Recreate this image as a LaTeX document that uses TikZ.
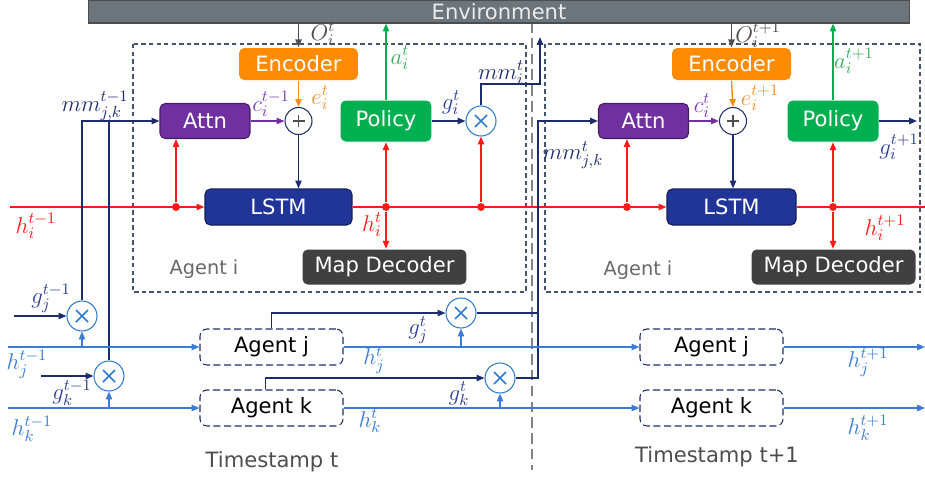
\RequirePackage{fix-cm}
\documentclass[tikz,border=0pt]{standalone}
\usepackage[no-math]{fontspec}
\newfontfamily\vfont{DejaVu Sans}
\usetikzlibrary{arrows.meta}

\definecolor{cenv}{HTML}{6C757B}
\definecolor{cnavy}{HTML}{1F2C6C}
\definecolor{cgnavy}{HTML}{2E3D94}
\definecolor{cred}{HTML}{FF1A1A}
\definecolor{cblue}{HTML}{3A7BD5}
\definecolor{cxblue}{HTML}{2E7BCF}
\definecolor{corange}{HTML}{FF8C00}
\definecolor{celab}{HTML}{F0922B}
\definecolor{cpurple}{HTML}{7030A0}
\definecolor{cclab}{HTML}{7B3FB5}
\definecolor{cgreen}{HTML}{00B050}
\definecolor{calab}{HTML}{3DAA5D}
\definecolor{clstm}{HTML}{213497}
\definecolor{cmap}{HTML}{404040}
\definecolor{cgray}{HTML}{4D4D4D}
\definecolor{cslate}{HTML}{44546A}

\begin{document}
\begin{tikzpicture}[x=0.02cm,y=-0.02cm]
        \tikzstyle{every path}=[line width=0.8pt]

        \edef\armlen{0.12cm}
        \tikzstyle{arr}=[-{Triangle[length=4.5pt,width=3.6pt]}]
        \tikzstyle{blk}=[rounded corners=3pt,inner sep=0pt,text=white,font=\vfont\fontsize{12}{14}\selectfont]
        \tikzstyle{encb}=[blk,fill=corange,minimum width=2.38cm,minimum height=0.64cm]
        \tikzstyle{attnb}=[blk,fill=cpurple,draw=cpurple!60!black,line width=0.6pt,minimum width=1.8cm,minimum height=0.7cm]
        \tikzstyle{lstmb}=[blk,fill=clstm,draw=clstm!60!black,line width=0.6pt,minimum height=0.72cm]
        \tikzstyle{polb}=[blk,fill=cgreen,minimum width=1.82cm,minimum height=0.82cm]
        \tikzstyle{mapb}=[blk,fill=cmap,minimum width=3.28cm,minimum height=0.7cm]
        \tikzstyle{agb}=[draw=cnavy,dash pattern=on 4pt off 2pt,rounded corners=4pt,line width=0.6pt,inner sep=0pt,minimum width=2.86cm,minimum height=0.72cm,font=\vfont\fontsize{12}{14}\selectfont]
        \tikzstyle{panel}=[draw=cslate,dash pattern=on 2.5pt off 1.8pt,line width=0.6pt]
        \tikzstyle{mul}=[circle,draw=cxblue,fill=white,line width=0.6pt,inner sep=0pt,minimum size=0.6cm,
            path picture={\draw[cxblue,line width=0.9pt]
              ([shift={(-\armlen,-\armlen)}]path picture bounding box.center) -- ([shift={(\armlen,\armlen)}]path picture bounding box.center)
              ([shift={(-\armlen,\armlen)}]path picture bounding box.center) -- ([shift={(\armlen,-\armlen)}]path picture bounding box.center);}]
        \tikzstyle{add}=[circle,draw=cnavy,fill=white,line width=0.6pt,inner sep=0pt,minimum size=0.54cm,
            path picture={\draw[cgray,line width=0.7pt]
              ([xshift=-\armlen]path picture bounding box.center) -- ([xshift=\armlen]path picture bounding box.center)
              ([yshift=-\armlen]path picture bounding box.center) -- ([yshift=\armlen]path picture bounding box.center);}]
        \tikzstyle{lab}=[inner sep=0pt,font=\fontsize{13}{15}\selectfont]
        \tikzstyle{txt}=[inner sep=0pt,font=\vfont\fontsize{12}{14}\selectfont]
        \tikzstyle{rdot}=[circle,fill=cred,inner sep=0pt,minimum size=4.5pt]

        \useasboundingbox (0,0) rectangle (925,477);

        % frames and the split between the two time steps
        \draw[panel] (133,44) rectangle (526,292);
        \draw[panel] (545,44) rectangle (920,292);
        \draw[cgray!70,dash pattern=on 6pt off 3pt,line width=0.7pt] (532,22) -- (532,470);

        \node[fill=cenv,draw=cgray,line width=0.6pt,inner sep=0pt,minimum width=16.44cm,minimum height=0.46cm,
              text=white!92!black,font=\vfont\fontsize{12}{14}\selectfont] (env) at (499,11.5) {Environment};

        % agent i, step t
        \node[encb]  (enc1)  at (298.5,64)  {Encoder};
        \node[attnb] (attn1) at (205,121)   {Attn};
        \node[add]   (add1)  at (298.5,121) {};
        \node[lstmb,minimum width=2.94cm] (lstm1) at (278.5,207) {LSTM};
        \node[polb]  (pol1)  at (386,121)   {Policy};
        \node[mul]   (mul1)  at (481,121)   {};
        \node[mapb]  (map1)  at (384.5,267) {Map Decoder};

        % agent i, step t+1
        \node[encb]  (enc2)  at (731.5,64)  {Encoder};
        \node[attnb] (attn2) at (643.5,121) {Attn};
        \node[add]   (add2)  at (733,121)   {};
        \node[lstmb,minimum width=2.58cm] (lstm2) at (731.5,207) {LSTM};
        \node[polb]  (pol2)  at (833,121)   {Policy};
        \node[mapb]  (map2)  at (833.5,267) {Map Decoder};

        % agents j and k
        \node[agb] (aj1) at (271.5,347) {Agent j};
        \node[agb] (ak1) at (271.5,408) {Agent k};
        \node[agb] (aj2) at (711.5,347) {Agent j};
        \node[agb] (ak2) at (711.5,408) {Agent k};
        \node[mul] (mulj0) at (82,316)  {};
        \node[mul] (mulk0) at (109,376) {};
        \node[mul] (mulj1) at (461,313) {};
        \node[mul] (mulk1) at (500,378) {};

        \node[rdot] (d1) at (176,207) {};
        \node[rdot] (d2) at (386,207) {};
        \node[rdot] (d3) at (481,207) {};
        \node[rdot] (d4) at (627,207) {};
        \node[rdot] (d5) at (833,207) {};

        \coordinate (hin)    at (10,207);
        \coordinate (hout)   at (925,207);
        \coordinate (mmbend) at (540,84);
        \coordinate (mmup)   at (540,37);
        \coordinate (mmjk)   at (538,121);
        \coordinate (gout)   at (917,121);
        \coordinate (gj0)    at (14,316);
        \coordinate (gk0)    at (41,376);
        \coordinate (hj0)    at (8,347);
        \coordinate (hk0)    at (8,408);
        \coordinate (hj2)    at (925,347);
        \coordinate (hk2)    at (925,408);

        % environment in and out
        \draw[arr,cgray]  (env.south -| enc1.north) -- (enc1.north);
        \draw[arr,cgreen] (pol1.north) -- (pol1.north |- env.south);
        \draw[arr,cgray]  (env.south -| enc2.north) -- (enc2.north);
        \draw[arr,cgreen] (pol2.north) -- (pol2.north |- env.south);

        % inside agent i
        \draw[arr,corange] (enc1.south) -- (add1.north);
        \draw[arr,cpurple] (attn1.east) -- (add1.west);
        \draw[arr,cnavy]   (add1.south) -- (add1.south |- lstm1.north);
        \draw[arr,cnavy]   (pol1.east) -- (mul1.west);
        \draw[arr,cnavy]   (mul1.north) |- (mmbend) -- (mmup);
        \draw[arr,corange] (enc2.south) -- (add2.north);
        \draw[arr,cpurple] (attn2.east) -- (add2.west);
        \draw[arr,cnavy]   (add2.south) -- (add2.south |- lstm2.north);
        \draw[arr,cnavy]   (pol2.east) -- (gout);

        % hidden state of agent i
        \draw[arr,cred] (hin) -- (lstm1.west);
        \draw[arr,cred] (lstm1.east) -- (lstm2.west);
        \draw[cred]     (lstm2.east) -- (hout);
        \draw[arr,cred] (d1) -- (d1 |- attn1.south);
        \draw[arr,cred] (d2) -- (pol1.south);
        \draw[arr,cred] (d2) -- (d2 |- map1.north);
        \draw[arr,cred] (d3) -- (mul1.south);
        \draw[arr,cred] (d4) -- (d4 |- attn2.south);
        \draw[arr,cred] (d5) -- (pol2.south);
        \draw[arr,cred] (d5) -- (d5 |- map2.north);

        % messages from j and k
        \draw[arr,cnavy] (gj0) -- (mulj0.west);
        \draw[arr,cnavy] (gk0) -- (mulk0.west);
        \draw[arr,cnavy] (mulj0.north) |- (attn1.west);
        \draw[cnavy]     (mulk0.north) -- (mulk0.north |- attn1.west);
        \draw[arr,cnavy] (aj1.north) |- (mulj1.west);
        \draw[arr,cnavy] ([xshift=-0.12cm]ak1.north) |- (mulk1.west);
        \draw[cnavy]     (mulj1.east) -- (mulj1.east -| mmjk);
        \draw[arr,cnavy] (mulk1.east) -| (mmjk) -- (attn2.west);

        % hidden states of j and k
        \draw[arr,cblue] (hj0) -- (aj1.west);
        \draw[arr,cblue] (hk0) -- (ak1.west);
        \draw[arr,cblue] (mulj0.south |- aj1.west) -- (mulj0.south);
        \draw[arr,cblue] (mulk0.south |- ak1.west) -- (mulk0.south);
        \draw[arr,cblue] (aj1.east) -- (aj2.west);
        \draw[arr,cblue] (ak1.east) -- (ak2.west);
        \draw[arr,cblue] (mulj1.south |- aj1.east) -- (mulj1.south);
        \draw[arr,cblue] (mulk1.south |- ak1.east) -- (mulk1.south);
        \draw[arr,cblue] (aj2.east) -- (hj2);
        \draw[arr,cblue] (ak2.east) -- (hk2);

        % labels
        \node[lab,text=cgray]   (lo1)  at (323,34)  {$O_i^t$};
        \node[lab,text=calab]   (la1)  at (400,58)  {$a_i^t$};
        \node[lab,text=celab]   (le1)  at (320,98)  {$e_i^t$};
        \node[lab,text=cclab]   (lc1)  at (271,104) {$c_i^{t-1}$};
        \node[lab,text=cgnavy]  (lg1)  at (451,103) {$g_i^t$};
        \node[lab,text=cnavy]   (lmm1) at (501,73)  {$mm_i^t$};
        \node[lab,text=cred]    (lh1)  at (372,225) {$h_i^t$};
        \node[lab,text=cred]    (lh0)  at (36,226)  {$h_i^{t-1}$};
        \node[lab,text=cnavy]   (lmm0) at (95,106)  {$mm_{j,k}^{t-1}$};
        \node[lab,text=cgray]   (lo2)  at (758,35)  {$O_i^{t+1}$};
        \node[lab,text=calab]   (la2)  at (854,61)  {$a_i^{t+1}$};
        \node[lab,text=celab]   (le2)  at (760,98)  {$e_i^{t+1}$};
        \node[lab,text=cclab]   (lc2)  at (702,106) {$c_i^t$};
        \node[lab,text=cgnavy]  (lg2)  at (899,147) {$g_i^{t+1}$};
        \node[lab,text=cred]    (lh2)  at (885,228) {$h_i^{t+1}$};
        \node[lab,text=cnavy]   (lmm2) at (573,155) {$mm_{j,k}^t$};
        \node[lab,text=cgnavy]  (lgj0) at (51,298)  {$g_j^{t-1}$};
        \node[lab,text=cblue]   (lhj0) at (27,364)  {$h_j^{t-1}$};
        \node[lab,text=cgnavy]  (lgk0) at (72,393)  {$g_k^{t-1}$};
        \node[lab,text=cblue]   (lhk0) at (32,429)  {$h_k^{t-1}$};
        \node[lab,text=cgnavy]  (lgj1) at (418,330) {$g_j^t$};
        \node[lab,text=cblue]   (lhj1) at (374,360) {$h_j^t$};
        \node[lab,text=cgnavy]  (lgk1) at (459,394) {$g_k^t$};
        \node[lab,text=cblue]   (lhk1) at (370,421) {$h_k^t$};
        \node[lab,text=cblue]   (lhj2) at (868,362) {$h_j^{t+1}$};
        \node[lab,text=cblue]   (lhk2) at (868,428) {$h_k^{t+1}$};

        \node[txt,text=cgray!85,font=\vfont\fontsize{11}{13}\selectfont] (lai1) at (204,269) {Agent i};
        \node[txt,text=cgray!85,font=\vfont\fontsize{11}{13}\selectfont] (lai2) at (638,270) {Agent i};
        \node[txt,text=cgray] (lts1) at (272,462) {Timestamp t};
        \node[txt,text=cgray] (lts2) at (717,457) {Timestamp t+1};
\end{tikzpicture}
\end{document}
